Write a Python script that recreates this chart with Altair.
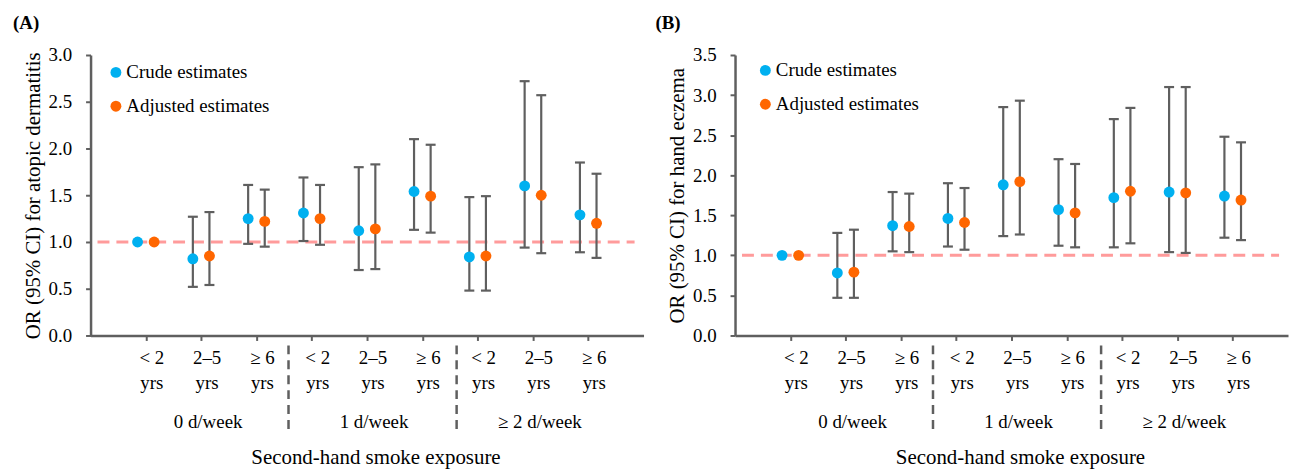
import altair as alt
import pandas as pd
import numpy as np

FONT = "Liberation Serif"
GRAY = "#5f5f5f"
W, H = 556, 282

# ---------------- data ----------------
positions = list(range(9))
duration_labels = ["< 2", "2–5", "≥ 6"] * 3
unit_labels = ["yrs"] * 9
group_labels = ["0 d/week", "1 d/week", "≥ 2 d/week"]
group_pos = [1, 4, 7]
divider_pos = [2.58, 5.62]
series = ["Crude estimates", "Adjusted estimates"]
offsets = [-0.15, 0.15]
colors = ["#00B0F0", "#FF6600"]
ref_value = [1.0]

# Panel A: atopic dermatitis
a_crude = [1.00, 0.82, 1.25, 1.31, 1.12, 1.54, 0.84, 1.60, 1.29]
a_crude_lo = [None, 0.52, 0.98, 1.01, 0.70, 1.13, 0.48, 0.94, 0.89]
a_crude_hi = [None, 1.27, 1.61, 1.69, 1.80, 2.10, 1.48, 2.72, 1.85]
a_adj = [1.00, 0.85, 1.22, 1.25, 1.14, 1.49, 0.85, 1.50, 1.20]
a_adj_lo = [None, 0.54, 0.95, 0.97, 0.71, 1.10, 0.48, 0.88, 0.83]
a_adj_hi = [None, 1.32, 1.56, 1.61, 1.83, 2.04, 1.49, 2.57, 1.73]

# Panel B: hand eczema
b_crude = [1.00, 0.78, 1.37, 1.46, 1.88, 1.57, 1.72, 1.79, 1.74]
b_crude_lo = [None, 0.47, 1.05, 1.11, 1.24, 1.12, 1.10, 1.04, 1.22]
b_crude_hi = [None, 1.28, 1.79, 1.90, 2.85, 2.20, 2.70, 3.10, 2.48]
b_adj = [1.00, 0.79, 1.36, 1.41, 1.92, 1.53, 1.80, 1.78, 1.69]
b_adj_lo = [None, 0.47, 1.04, 1.07, 1.26, 1.10, 1.15, 1.03, 1.19]
b_adj_hi = [None, 1.32, 1.77, 1.84, 2.93, 2.14, 2.84, 3.10, 2.41]

x_title = "Second-hand smoke exposure"

LABEL_FS = 19
TITLE_FS = 21


def long_df(crude, clo, chi, adj, alo, ahi):
    rows = []
    for i in positions:
        vals = [(crude[i], clo[i], chi[i]), (adj[i], alo[i], ahi[i])]
        for s, off, (o, lo, hi) in zip(series, offsets, vals):
            rows.append(dict(pos=i, x=i + off, series=s, OR=o,
                             lo=np.nan if lo is None else lo,
                             hi=np.nan if hi is None else hi))
    return pd.DataFrame(rows)


def make_panel(df, ymax, ytitle, letter, letter_dx, legend_x, legend_y):
    ci_df = df.dropna()
    xscale = alt.Scale(domain=[-1, 9], nice=False, zero=False)
    yscale = alt.Scale(domain=[0, ymax], nice=False)
    yvals = [round(v, 1) for v in np.arange(0, ymax + 0.01, 0.5)]
    x_axis = alt.Axis(values=positions, labels=False, title=None, grid=False)
    y_axis = alt.Axis(values=yvals, format=".1f", title=ytitle,
                      labelPadding=14, titlePadding=5, grid=False)

    def X(field):
        return alt.X(field, scale=xscale, axis=x_axis)

    def Y(field):
        return alt.Y(field, scale=yscale, axis=y_axis)

    ref = alt.Chart(pd.DataFrame({"ref": ref_value})).mark_rule(
        color="#FF9B9B", strokeWidth=3, strokeDash=[12, 7]
    ).encode(y=Y("ref:Q"), x=alt.value(7), x2=alt.value(W - 9))

    errs = alt.Chart(ci_df).mark_rule(color=GRAY, strokeWidth=2.2).encode(
        x=X("x:Q"), y=Y("lo:Q"), y2="hi:Q")
    cap_lo = alt.Chart(ci_df).mark_tick(
        orient="horizontal", color=GRAY, size=10, thickness=2.2, opacity=1
    ).encode(x=X("x:Q"), y=Y("lo:Q"))
    cap_hi = alt.Chart(ci_df).mark_tick(
        orient="horizontal", color=GRAY, size=10, thickness=2.2, opacity=1
    ).encode(x=X("x:Q"), y=Y("hi:Q"))
    pts = alt.Chart(df).mark_circle(size=120, opacity=1).encode(
        x=X("x:Q"), y=Y("OR:Q"),
        color=alt.Color(
            "series:N", sort=series,
            scale=alt.Scale(domain=series, range=colors),
            legend=alt.Legend(
                title=None, orient="none", legendX=legend_x, legendY=legend_y,
                labelFont=FONT, labelFontSize=LABEL_FS, labelColor="black",
                symbolType="circle", symbolSize=120, rowPadding=14,
                labelOffset=1, padding=0, symbolOpacity=1,
                symbolStrokeWidth=0,
            ),
        ),
    )

    lab_df = pd.DataFrame({"pos": positions, "dur": duration_labels,
                           "unit": unit_labels})
    t1 = alt.Chart(lab_df).mark_text(
        font=FONT, fontSize=LABEL_FS, color="black", dx=6, baseline="middle"
    ).encode(x=X("pos:Q"), y=alt.value(H + 23), text="dur:N")
    t2 = alt.Chart(lab_df).mark_text(
        font=FONT, fontSize=LABEL_FS, color="black", dx=6, baseline="middle"
    ).encode(x=X("pos:Q"), y=alt.value(H + 48), text="unit:N")
    grp = alt.Chart(pd.DataFrame({"pos": group_pos, "g": group_labels})).mark_text(
        font=FONT, fontSize=LABEL_FS, color="black", dx=7, baseline="middle"
    ).encode(x=X("pos:Q"), y=alt.value(H + 87), text="g:N")
    ttl = alt.Chart(pd.DataFrame({"t": [x_title]})).mark_text(
        font=FONT, fontSize=TITLE_FS, color="black", baseline="middle"
    ).encode(x=alt.value(W / 2 + 9), y=alt.value(H + 123), text="t:N")
    divs = alt.Chart(pd.DataFrame({"d": divider_pos})).mark_rule(
        color=GRAY, strokeWidth=2.5, strokeDash=[9, 6]
    ).encode(x=X("d:Q"), y=alt.value(H + 10), y2=alt.value(H + 98))

    return alt.layer(ref, errs, cap_lo, cap_hi, pts, t1, t2, grp, ttl, divs).properties(
        width=W, height=H,
        title=alt.TitleParams(text=letter, anchor="start", frame="group",
                              dx=letter_dx, offset=13, fontSize=19, font=FONT,
                              fontWeight="bold", color="black"),
    )


panel_a = make_panel(long_df(a_crude, a_crude_lo, a_crude_hi, a_adj, a_adj_lo, a_adj_hi),
                     3.0, "OR (95% CI) for atopic dermatitis", "(A)", -78, 16, 8)
panel_b = make_panel(long_df(b_crude, b_crude_lo, b_crude_hi, b_adj, b_adj_lo, b_adj_hi),
                     3.5, "OR (95% CI) for hand eczema", "(B)", -80, 21, 6)

chart = alt.hconcat(panel_a, panel_b, spacing=12).resolve_scale(
    color="independent"
).resolve_legend(color="independent").properties(
    padding={"left": 5, "top": 5, "right": 2, "bottom": 0}
).configure_view(stroke=None).configure_axis(
    domainColor=GRAY, domainWidth=2.5, tickColor=GRAY, tickWidth=2, tickSize=5,
    labelFont=FONT, labelFontSize=LABEL_FS, labelColor="black",
    titleFont=FONT, titleFontSize=TITLE_FS, titleColor="black",
    titleFontWeight="normal", grid=False,
)

chart.save("out.html", embed_options={"renderer": "svg", "actions": False})
